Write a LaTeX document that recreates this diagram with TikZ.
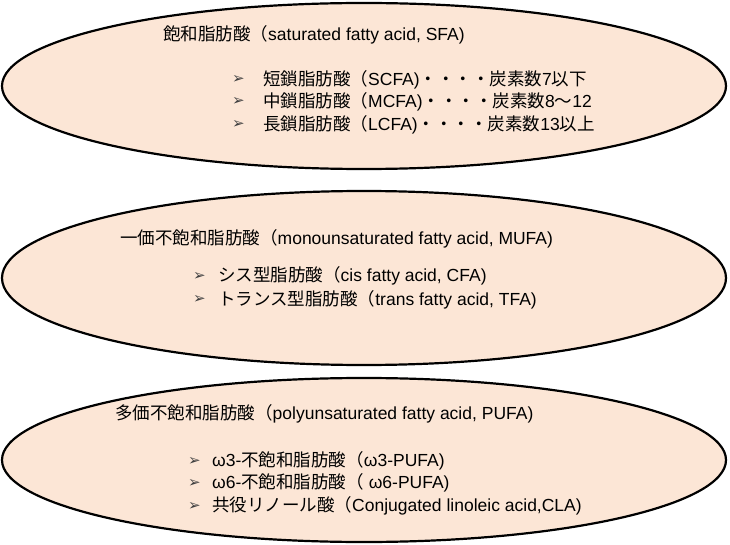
\documentclass[tikz,border=0pt]{standalone}
\usepackage{fontspec}
\setmainfont{Liberation Sans}
\newfontfamily\jp{Noto Sans CJK JP}
\newfontfamily\dv{DejaVu Sans}
\newcommand{\J}[1]{{\jp #1}}
\newcommand{\bl}{{\dv\char"27A2}}
\begin{document}
\begin{tikzpicture}[x=1pt,y=-1pt,
  oval/.style={draw=black,line width=2.2pt,fill={rgb,255:red,252;green,230;blue,214}},
  txt/.style={anchor=west,inner sep=0pt,font=\fontsize{17.5}{20}\selectfont},
  bul/.style={anchor=west,inner sep=0pt,text=black!75,font=\fontsize{15}{17}\selectfont}]
\useasboundingbox (0,0) rectangle (730,545);
\fill[white] (0,0) rectangle (730,545);
\draw[oval] (364,86) ellipse [x radius=362,y radius=83];
\draw[oval] (364,278) ellipse [x radius=362,y radius=87];
\draw[oval] (364,460) ellipse [x radius=362,y radius=82];
\node[txt] (t1) at (163,35) {\J{飽和脂肪酸（}saturated fatty acid, SFA)};
\node[bul] (b11) at (232,80) {\bl};
\node[bul] (b12) at (232,102) {\bl};
\node[bul] (b13) at (232,125) {\bl};
\node[txt] (s11) at (263,80) {\J{短鎖脂肪酸（}SCFA)\J{・・・・炭素数}7\J{以下}};
\node[txt] (s12) at (263,102) {\J{中鎖脂肪酸（}MCFA)\J{・・・・炭素数}8\J{～}12};
\node[txt] (s13) at (263,125) {\J{長鎖脂肪酸（}LCFA)\J{・・・・炭素数}13\J{以上}};
\node[txt] (t2) at (120,239) {\J{一価不飽和脂肪酸（}monounsaturated fatty acid, MUFA)};
\node[bul] (b21) at (193,276) {\bl};
\node[bul] (b22) at (193,300) {\bl};
\node[txt] (s21) at (218,276) {\J{シス型脂肪酸（}cis fatty acid, CFA)};
\node[txt] (s22) at (218,300) {\J{トランス型脂肪酸（}trans fatty acid, TFA)};
\node[txt] (t3) at (115,414) {\J{多価不飽和脂肪酸（}polyunsaturated fatty acid, PUFA)};
\node[bul] (b31) at (188,461) {\bl};
\node[bul] (b32) at (188,483) {\bl};
\node[bul] (b33) at (188,506) {\bl};
\node[txt] (s31) at (212,461) {ω3-\J{不飽和脂肪酸（}ω3-PUFA)};
\node[txt] (s32) at (212,483) {ω6-\J{不飽和脂肪酸（} ω6-PUFA)};
\node[txt] (s33) at (212,506) {\J{共役リノール酸（}Conjugated linoleic acid,CLA)};
\end{tikzpicture}
\end{document}
